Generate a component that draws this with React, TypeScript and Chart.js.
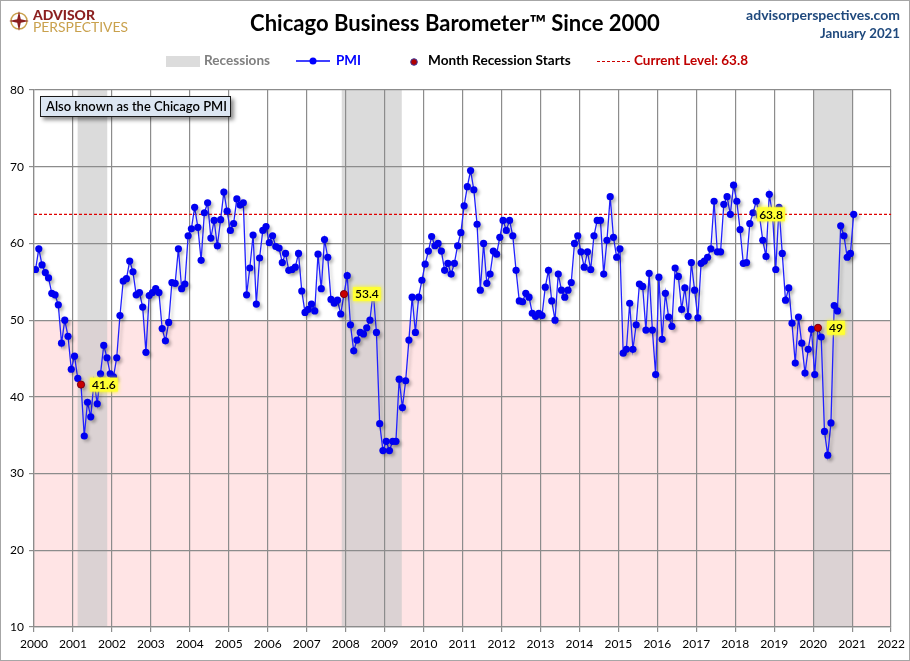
import React, { useEffect, useRef } from "react";
import { Chart, registerables } from "chart.js";
Chart.register(...registerables);

// ---------- data ----------
const startYear = 2000;
const pmi2000 = [56.6, 59.3, 57.2, 56.2, 55.5, 53.5, 53.3, 52.0, 47.0, 50.0, 47.9, 43.6];
const pmi2001 = [45.3, 42.4, 41.6, 34.9, 39.3, 37.4, 42.0, 39.1, 43.0, 46.7, 45.1, 43.0];
const pmi2002 = [42.6, 45.1, 50.6, 55.1, 55.4, 57.7, 56.3, 53.3, 53.6, 51.7, 45.8, 53.2];
const pmi2003 = [53.6, 54.1, 53.6, 48.9, 47.3, 49.7, 54.9, 54.8, 59.3, 54.1, 54.7, 61.0];
const pmi2004 = [61.9, 64.7, 62.1, 57.8, 64.0, 65.3, 60.7, 63.0, 59.7, 63.1, 66.7, 64.2];
const pmi2005 = [61.7, 62.6, 65.8, 65.0, 65.3, 53.3, 56.8, 61.1, 52.1, 58.1, 61.7, 62.2];
const pmi2006 = [60.1, 61.0, 59.6, 59.4, 57.5, 58.7, 56.5, 56.6, 56.9, 58.7, 53.8, 51.0];
const pmi2007 = [51.4, 52.1, 51.2, 58.6, 54.1, 60.5, 58.2, 52.7, 52.2, 52.6, 50.8, 53.4];
const pmi2008 = [55.8, 49.4, 46.0, 47.4, 48.4, 48.2, 49.0, 50.0, 53.7, 48.4, 36.5, 33.0];
const pmi2009 = [34.2, 33.0, 34.2, 34.2, 42.3, 38.6, 42.1, 47.4, 53.0, 48.4, 53.0, 55.2];
const pmi2010 = [57.3, 59.0, 60.9, 59.7, 60.0, 59.0, 56.5, 57.4, 56.0, 57.4, 59.7, 61.4];
const pmi2011 = [64.9, 67.4, 69.5, 67.0, 62.5, 53.9, 60.0, 54.8, 56.0, 59.0, 58.6, 60.8];
const pmi2012 = [63.0, 61.7, 63.0, 61.0, 56.5, 52.5, 52.4, 53.5, 53.0, 50.9, 50.5, 50.9];
const pmi2013 = [50.6, 54.3, 56.5, 52.5, 50.0, 56.0, 53.9, 53.0, 53.9, 54.9, 60.0, 61.0];
const pmi2014 = [58.9, 56.9, 58.9, 56.6, 61.0, 63.0, 63.0, 56.0, 60.4, 66.1, 60.8, 58.2];
const pmi2015 = [59.3, 45.7, 46.2, 52.2, 46.2, 49.4, 54.7, 54.4, 48.7, 56.1, 48.7, 42.9];
const pmi2016 = [55.6, 47.5, 53.5, 50.4, 49.2, 56.8, 55.7, 51.4, 54.2, 50.5, 57.5, 53.9];
const pmi2017 = [50.3, 57.4, 57.7, 58.2, 59.3, 65.5, 58.9, 58.9, 65.1, 66.1, 63.8, 67.6];
const pmi2018 = [65.5, 61.8, 57.4, 57.5, 62.6, 64.0, 65.5, 63.6, 60.4, 58.3, 66.4, 63.8];
const pmi2019 = [56.6, 64.7, 58.7, 52.6, 54.2, 49.6, 44.4, 50.4, 47.0, 43.1, 46.2, 48.8];
const pmi2020 = [42.9, 49.0, 47.8, 35.5, 32.4, 36.6, 51.9, 51.2, 62.3, 61.0, 58.2, 58.7];
const pmi2021 = [63.8];

const pmiByYear = [
  pmi2000, pmi2001, pmi2002, pmi2003, pmi2004, pmi2005, pmi2006, pmi2007,
  pmi2008, pmi2009, pmi2010, pmi2011, pmi2012, pmi2013, pmi2014, pmi2015,
  pmi2016, pmi2017, pmi2018, pmi2019, pmi2020, pmi2021,
];

// recession periods (fractional years)
const recessionStartsAt = [2001.12, 2007.9, 2020.0];
const recessionEndsAt = [2001.88, 2009.44, 2021.0];
// month the recession starts: [year, monthIndex]
const recessionStartYears = [2001, 2007, 2020];
const recessionStartMonths = [2, 11, 1];
const recessionStartLabels = ["41.6", "53.4", "49"];

const currentLevel = 63.8;
const matchYear = 2018;
const matchMonth = 11;
const matchLabel = "63.8";

const xMin = 2000;
const xMax = 2022;
const yMin = 10;
const yMax = 80;
const contractionLevel = 50;

const FONT = "Lato, 'Open Sans', sans-serif";

function monthX(year: number, month: number) {
  return year + month / 12 + 0.04;
}

function valueAt(year: number, month: number) {
  return pmiByYear[year - startYear][month];
}

function fitFont(ctx: CanvasRenderingContext2D, text: string, weight: string, targetW: number) {
  ctx.font = `${weight} 100px ${FONT}`;
  const w = ctx.measureText(text).width;
  const size = (100 * targetW) / w;
  ctx.font = `${weight} ${size.toFixed(2)}px ${FONT}`;
}

const decorPlugin = {
  id: "decor",
  beforeDraw(chart: any) {
    const { ctx, chartArea, scales } = chart;
    const x = scales.x;
    const y = scales.y;
    ctx.save();
    ctx.fillStyle = "#ffffff";
    ctx.fillRect(0, 0, chart.width, chart.height);
    // contraction zone
    const y50 = y.getPixelForValue(contractionLevel);
    const y10 = y.getPixelForValue(yMin);
    ctx.fillStyle = "#ffe4e5";
    ctx.fillRect(chartArea.left, y50, chartArea.right - chartArea.left, y10 - y50);
    // recessions
    ctx.fillStyle = "rgba(202,202,202,0.67)";
    for (let i = 0; i < recessionStartsAt.length; i++) {
      const a = x.getPixelForValue(recessionStartsAt[i]);
      const b = x.getPixelForValue(recessionEndsAt[i]);
      ctx.fillRect(a, chartArea.top, b - a, chartArea.bottom - chartArea.top);
    }
    ctx.restore();
  },
  beforeDatasetsDraw(chart: any) {
    const { ctx, chartArea, scales } = chart;
    const yy = scales.y.getPixelForValue(currentLevel);
    ctx.save();
    ctx.strokeStyle = "#e00000";
    ctx.lineWidth = 1.2;
    ctx.setLineDash([3, 2]);
    ctx.beginPath();
    ctx.moveTo(chartArea.left, yy);
    ctx.lineTo(chartArea.right, yy);
    ctx.stroke();
    ctx.restore();
  },
  beforeDatasetDraw(chart: any, args: any) {
    const ctx = chart.ctx;
    ctx.save();
    if (args.index === 1) {
      ctx.shadowColor = "rgba(0,0,0,0.22)";
      ctx.shadowBlur = 3;
      ctx.shadowOffsetX = 2.5;
      ctx.shadowOffsetY = 2.5;
    }
  },
  afterDatasetDraw(chart: any) {
    chart.ctx.restore();
  },
  afterDatasetsDraw(chart: any) {
    const { ctx, scales } = chart;
    const drawTag = (text: string, cx: number, cy: number, alignLeft: boolean) => {
      ctx.save();
      ctx.font = `600 12px ${FONT}`;
      const w = ctx.measureText(text).width;
      const left = alignLeft ? cx : cx - w / 2;
      ctx.shadowColor = "rgba(255,255,0,0.9)";
      ctx.shadowBlur = 4;
      ctx.fillStyle = "#ffff33";
      ctx.fillRect(left - 2, cy - 7, w + 4, 14);
      ctx.shadowBlur = 0;
      ctx.fillStyle = "#000000";
      ctx.textBaseline = "middle";
      ctx.textAlign = "left";
      ctx.fillText(text, left, cy + 0.5);
      ctx.restore();
    };
    for (let i = 0; i < recessionStartYears.length; i++) {
      const yr = recessionStartYears[i];
      const mo = recessionStartMonths[i];
      const px = scales.x.getPixelForValue(monthX(yr, mo));
      const py = scales.y.getPixelForValue(valueAt(yr, mo));
      drawTag(recessionStartLabels[i], px + 11, py, true);
    }
    const mx = scales.x.getPixelForValue(monthX(matchYear, matchMonth));
    const my = scales.y.getPixelForValue(valueAt(matchYear, matchMonth));
    drawTag(matchLabel, mx - 1.5, my, false);
  },
  afterDraw(chart: any) {
    const ctx: CanvasRenderingContext2D = chart.ctx;
    ctx.save();
    ctx.textBaseline = "middle";

    // title
    ctx.fillStyle = "#000000";
    ctx.textAlign = "center";
    fitFont(ctx, "Chicago Business Barometer™ Since 2000", "bold", 410);
    ctx.fillText("Chicago Business Barometer™ Since 2000", 455, 24);

    // right header
    ctx.textAlign = "right";
    ctx.fillStyle = "#1f497d";
    fitFont(ctx, "advisorperspectives.com", "bold", 154);
    ctx.fillText("advisorperspectives.com", 900, 15);
    fitFont(ctx, "January 2021", "bold", 80);
    ctx.fillText("January 2021", 900, 34);

    // logo
    ctx.textAlign = "left";
    ctx.fillStyle = "#8b1f1f";
    fitFont(ctx, "ADVISOR", "900", 62);
    ctx.fillText("ADVISOR", 33, 16);
    ctx.fillStyle = "#c9a14d";
    fitFont(ctx, "PERSPECTIVES", "normal", 95);
    ctx.fillText("PERSPECTIVES", 33, 27.5);
    // compass icon
    const cx = 19, cy = 21;
    ctx.strokeStyle = "#c9a14d";
    ctx.lineWidth = 1.5;
    ctx.beginPath();
    ctx.arc(cx, cy, 8, 0, Math.PI * 2);
    ctx.stroke();
    ctx.fillStyle = "#8b1f1f";
    ctx.beginPath();
    for (let k = 0; k < 8; k++) {
      const ang = (k * Math.PI) / 4 - Math.PI / 2;
      const r = k % 2 === 0 ? 10 : 2.5;
      const px = cx + r * Math.cos(ang);
      const py = cy + r * Math.sin(ang);
      if (k === 0) ctx.moveTo(px, py);
      else ctx.lineTo(px, py);
    }
    ctx.closePath();
    ctx.fill();

    // legend
    const ly = 61;
    ctx.fillStyle = "#dcdcdc";
    ctx.fillRect(166, 56, 34, 11);
    ctx.fillStyle = "#7f7f7f";
    fitFont(ctx, "Recessions", "bold", 66);
    ctx.fillText("Recessions", 204, ly);

    ctx.strokeStyle = "#0000ff";
    ctx.lineWidth = 1.5;
    ctx.beginPath();
    ctx.moveTo(296, ly);
    ctx.lineTo(330, ly);
    ctx.stroke();
    ctx.fillStyle = "#0000ff";
    ctx.beginPath();
    ctx.arc(313, ly, 3.5, 0, Math.PI * 2);
    ctx.fill();
    fitFont(ctx, "PMI", "bold", 25);
    ctx.fillText("PMI", 336, ly);

    ctx.fillStyle = "#b00000";
    ctx.strokeStyle = "#3a3aa0";
    ctx.lineWidth = 1;
    ctx.beginPath();
    ctx.arc(414, ly + 1, 3.3, 0, Math.PI * 2);
    ctx.fill();
    ctx.stroke();
    ctx.fillStyle = "#000000";
    fitFont(ctx, "Month Recession Starts", "bold", 143);
    ctx.fillText("Month Recession Starts", 428, ly);

    ctx.strokeStyle = "#cc0000";
    ctx.lineWidth = 1.2;
    ctx.setLineDash([3, 2]);
    ctx.beginPath();
    ctx.moveTo(597, ly + 0.5);
    ctx.lineTo(631, ly + 0.5);
    ctx.stroke();
    ctx.setLineDash([]);
    ctx.fillStyle = "#c00000";
    fitFont(ctx, "Current Level: 63.8", "bold", 114);
    ctx.fillText("Current Level: 63.8", 634, ly);

    // info box
    ctx.save();
    ctx.shadowColor = "rgba(0,0,0,0.45)";
    ctx.shadowBlur = 4;
    ctx.shadowOffsetX = 3;
    ctx.shadowOffsetY = 3;
    ctx.fillStyle = "#dce6f2";
    ctx.fillRect(40, 96, 191, 21);
    ctx.restore();
    ctx.strokeStyle = "#1a1a1a";
    ctx.lineWidth = 1;
    ctx.strokeRect(40.5, 96.5, 190, 20);
    ctx.fillStyle = "#000000";
    fitFont(ctx, "Also known as the Chicago PMI", "600", 181);
    ctx.fillText("Also known as the Chicago PMI", 46, 107);

    // outer frame
    ctx.strokeStyle = "#a6a6a6";
    ctx.lineWidth = 1;
    ctx.strokeRect(0.5, 0.5, chart.width - 1, chart.height - 1);
    ctx.restore();
  },
};

export default function App() {
  const ref = useRef<HTMLCanvasElement | null>(null);
  useEffect(() => {
    if (!ref.current) return;
    const pmiPoints: { x: number; y: number }[] = [];
    pmiByYear.forEach((vals, yi) => {
      vals.forEach((v, m) => pmiPoints.push({ x: monthX(startYear + yi, m), y: v }));
    });
    const startPoints = recessionStartYears.map((yr, i) => ({
      x: monthX(yr, recessionStartMonths[i]),
      y: valueAt(yr, recessionStartMonths[i]),
    }));
    const chart = new Chart(ref.current, {
      type: "line",
      data: {
        datasets: [
          {
            label: "Month Recession Starts",
            data: startPoints,
            showLine: false,
            pointRadius: 3.6,
            pointBackgroundColor: "#c80000",
            pointBorderColor: "#7a0000",
            pointBorderWidth: 0.8,
            order: 0,
          },
          {
            label: "PMI",
            data: pmiPoints,
            borderColor: "#2020ff",
            borderWidth: 1.3,
            tension: 0,
            pointRadius: 3.6,
            pointBackgroundColor: "#0000f0",
            pointBorderWidth: 0,
            order: 1,
          },
        ],
      },
      options: {
        animation: false,
        responsive: false,
        events: [],
        layout: { padding: { top: 90, right: 18, left: 0, bottom: 0 } },
        plugins: { legend: { display: false }, tooltip: { enabled: false }, title: { display: false } },
        scales: {
          x: {
            type: "linear",
            min: xMin,
            max: xMax,
            afterFit: (s: any) => { s.height = 34; },
            ticks: {
              stepSize: 1,
              autoSkip: false,
              maxRotation: 0,
              padding: 5,
              color: "#000",
              font: { family: FONT, size: 12 },
              callback: (v: any) => String(v),
            },
            grid: { color: "#8c8c8c", lineWidth: 1.2, tickLength: 5 },
            border: { color: "#8c8c8c", width: 1.2 },
          },
          y: {
            min: yMin,
            max: yMax,
            afterFit: (s: any) => { s.width = 34; },
            ticks: {
              stepSize: 10,
              padding: 5,
              color: "#000",
              font: { family: FONT, size: 12 },
            },
            grid: { color: "#8c8c8c", lineWidth: 1.2, tickLength: 5 },
            border: { color: "#8c8c8c", width: 1.2 },
          },
        },
      },
      plugins: [decorPlugin],
    } as any);
    return () => chart.destroy();
  }, []);
  return (
    <div style={{ position: "absolute", left: 0, top: 0, width: 910, height: 661 }}>
      <canvas ref={ref} width={910} height={661} style={{ display: "block" }} />
    </div>
  );
}
